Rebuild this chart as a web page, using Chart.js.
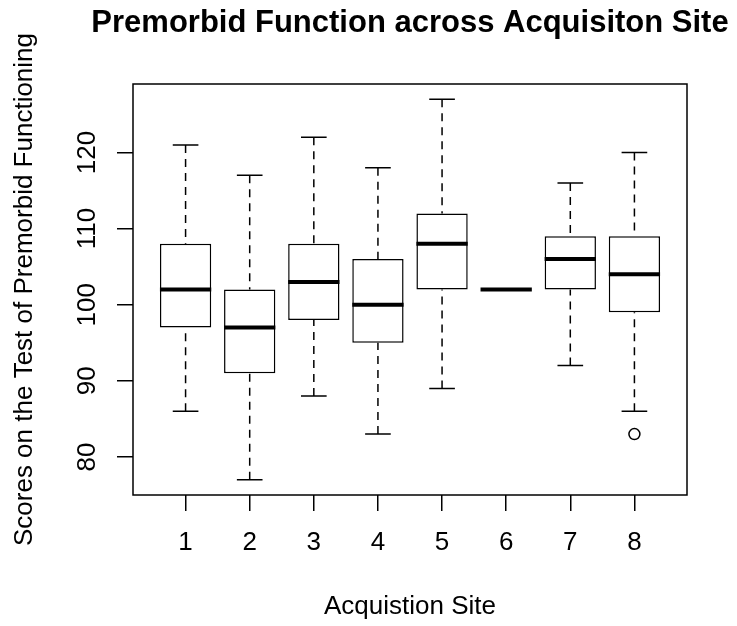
<!DOCTYPE html>
<html><head><meta charset="utf-8">
<script src="https://cdn.jsdelivr.net/npm/chart.js@4.4.1/dist/chart.umd.min.js"></script>
<style>html,body{margin:0;padding:0;background:#fff;} canvas{display:block;}</style>
</head><body>
<canvas id="c" width="737" height="626"></canvas>
<script>
const sites = [1, 2, 3, 4, 5, 6, 7, 8];
const lowerWhisker = [86, 77, 88, 83, 89, 102, 92, 86];
const q1 = [97, 91, 98, 95, 102, 102, 102, 99];
const median = [102, 97, 103, 100, 108, 102, 106, 104];
const q3 = [108, 102, 108, 106, 112, 102, 109, 109];
const upperWhisker = [121, 117, 122, 118, 127, 102, 116, 120];
const outlierSite = [8];
const outlierValue = [83];
const yTicks = [80, 90, 100, 110, 120];
const xTicks = sites;
const mainTitle = 'Premorbid Function across Acquisiton Site';

const FONT = "'Liberation Sans', Arial, Helvetica, sans-serif";

const boxPlugin = {
  id: 'rbox',
  afterDatasetsDraw(chart) {
    const ctx = chart.ctx;
    const y = chart.scales.y;
    const meta = chart.getDatasetMeta(0);
    ctx.save();
    ctx.strokeStyle = '#000';
    meta.data.forEach((bar, i) => {
      const cx = bar.x;
      const half = bar.width / 2;
      // dashed whiskers, drawn from whisker end toward box
      ctx.lineWidth = 1.5;
      ctx.setLineDash([8, 6]);
      ctx.beginPath();
      ctx.moveTo(cx, y.getPixelForValue(upperWhisker[i]));
      ctx.lineTo(cx, y.getPixelForValue(q3[i]));
      ctx.moveTo(cx, y.getPixelForValue(lowerWhisker[i]));
      ctx.lineTo(cx, y.getPixelForValue(q1[i]));
      ctx.stroke();
      ctx.setLineDash([]);
      // staples
      ctx.beginPath();
      ctx.moveTo(cx - half / 2, y.getPixelForValue(upperWhisker[i]));
      ctx.lineTo(cx + half / 2, y.getPixelForValue(upperWhisker[i]));
      ctx.moveTo(cx - half / 2, y.getPixelForValue(lowerWhisker[i]));
      ctx.lineTo(cx + half / 2, y.getPixelForValue(lowerWhisker[i]));
      ctx.stroke();
      // median
      ctx.lineWidth = 4;
      ctx.lineCap = 'butt';
      ctx.beginPath();
      ctx.moveTo(cx - half, y.getPixelForValue(median[i]));
      ctx.lineTo(cx + half, y.getPixelForValue(median[i]));
      ctx.stroke();
    });
    const a = chart.chartArea;
    ctx.lineWidth = 1.5;
    ctx.strokeRect(a.left, a.top, a.right - a.left, a.bottom - a.top);
    ctx.restore();
  },
  afterDraw(chart) {
    const ctx = chart.ctx;
    const a = chart.chartArea;
    ctx.save();
    ctx.fillStyle = '#000';
    ctx.font = 'bold 31px ' + FONT;
    ctx.textAlign = 'center';
    ctx.textBaseline = 'alphabetic';
    ctx.fillText(mainTitle, (a.left + a.right) / 2, 32);
    ctx.restore();
  }
};

new Chart(document.getElementById('c'), {
  type: 'bar',
  data: {
    datasets: [
      {
        label: 'IQR',
        data: sites.map((s, i) => ({ x: s, y: [q1[i], q3[i]] })),
        backgroundColor: '#fff',
        borderColor: '#000',
        borderWidth: 1.5,
        borderSkipped: false,
        barPercentage: 0.8,
        categoryPercentage: 1
      },
      {
        type: 'scatter',
        label: 'Outliers',
        data: outlierSite.map((s, i) => ({ x: s, y: outlierValue[i] })),
        pointRadius: 5.5,
        pointBackgroundColor: '#fff',
        pointBorderColor: '#000',
        pointBorderWidth: 1.5
      }
    ]
  },
  options: {
    responsive: false,
    animation: false,
    layout: { padding: { left: 0, right: 50, top: 84, bottom: 0 } },
    plugins: {
      legend: { display: false },
      tooltip: { enabled: false },
      title: { display: false }
    },
    scales: {
      x: {
        type: 'linear',
        min: 0.18, max: 8.82,
        offset: false,
        afterBuildTicks: s => { s.ticks = xTicks.map(v => ({ value: v })); },
        afterFit: s => { s.height = 131; },
        grid: { display: true, offset: false, drawOnChartArea: false, drawTicks: true, tickLength: 16, color: '#000', lineWidth: 1.5 },
        border: { display: false },
        ticks: { color: '#000', font: { family: FONT, size: 26 }, padding: 16, maxRotation: 0, autoSkip: false, callback: v => String(v) },
        title: { display: true, text: 'Acquistion Site', color: '#000', font: { family: FONT, size: 26 }, padding: { top: 0, bottom: 3.4 } }
      },
      y: {
        min: 75, max: 129,
        afterBuildTicks: s => { s.ticks = yTicks.map(v => ({ value: v })); },
        afterFit: s => { s.width = 133; },
        grid: { display: true, drawOnChartArea: false, drawTicks: true, tickLength: 16, color: '#000', lineWidth: 1.5 },
        border: { display: false },
        ticks: { color: '#000', font: { family: FONT, size: 26 }, padding: 7.3, minRotation: 90, maxRotation: 90, crossAlign: 'center', autoSkip: false, callback: v => String(v) },
        title: { display: true, text: 'Scores on the Test of Premorbid Functioning', color: '#000', font: { family: FONT, size: 26 }, padding: { top: 9.4, bottom: 0 } }
      }
    }
  },
  plugins: [boxPlugin]
});
</script>
</body></html>
